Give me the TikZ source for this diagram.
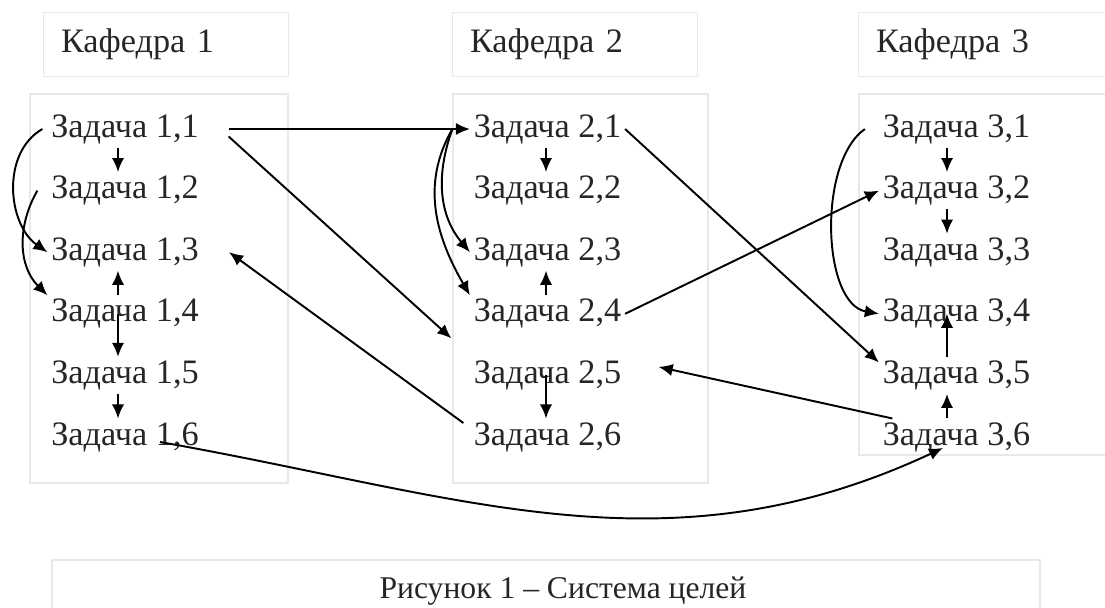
\documentclass[tikz,border=0pt]{standalone}
\usepackage{fontspec}
\setmainfont{Liberation Serif}
\usetikzlibrary{arrows.meta}

\tikzset{
  task/.style={inner sep=2pt, text=black!85, font=\fontsize{19.5}{23}\selectfont},
  dept/.style={draw=black!9, text=black!85, font=\fontsize{19.5}{23}\selectfont, align=left, text width=4.18cm, inner xsep=0.36cm, minimum height=1.28cm},
  panel/.style={draw=black!9, line width=0.6pt},
  arr/.style={-{Latex[length=8pt,width=7pt]}, line width=1.1pt},
}

\begin{document}
\begin{tikzpicture}[node distance=1.232cm]
    \useasboundingbox (0,0) rectangle (22.1,-12.14);
    % frames
    \draw[panel] (0.60,-1.88) rectangle (5.76,-9.66);
    \draw[panel] (9.06,-1.88) rectangle (14.16,-9.66);
    \draw[panel] (17.18,-1.88) rectangle (22.4,-9.10);
    \draw[panel] (1.04,-12.3) -- (1.04,-11.2) -- (20.8,-11.2) -- (20.8,-12.3);

    \node[dept] (dept1) at (3.31,-0.89) {Кафедра 1};
    \node[dept] (dept2) at (11.49,-0.89) {Кафедра 2};
    \node[dept, text width=4.5cm] (dept3) at (19.77,-0.89) {Кафедра 3};

    \node[task] (task11) at (2.5,-2.58) {Задача 1,1};
    \node[task] (task12) [below of=task11] {Задача 1,2};
    \node[task] (task13) [below of=task12] {Задача 1,3};
    \node[task] (task14) [below of=task13] {Задача 1,4};
    \node[task] (task15) [below of=task14] {Задача 1,5};
    \node[task] (task16) [below of=task15] {Задача 1,6};

    \node[task] (task21) at (10.95,-2.58) {Задача 2,1};
    \node[task] (task22) [below of=task21] {Задача 2,2};
    \node[task] (task23) [below of=task22] {Задача 2,3};
    \node[task] (task24) [below of=task23] {Задача 2,4};
    \node[task] (task25) [below of=task24] {Задача 2,5};
    \node[task] (task26) [below of=task25] {Задача 2,6};

    \node[task] (task31) at (19.13,-2.58) {Задача 3,1};
    \node[task] (task32) [below of=task31] {Задача 3,2};
    \node[task] (task33) [below of=task32] {Задача 3,3};
    \node[task] (task34) [below of=task33] {Задача 3,4};
    \node[task] (task35) [below of=task34] {Задача 3,5};
    \node[task] (task36) [below of=task35] {Задача 3,6};

    \node[task, font=\fontsize{18}{22}\selectfont] (caption) at (11.26,-11.82) {Рисунок 1 – Система целей};

    % department 1
    \draw[arr] ([xshift=-0.14cm]task11.south) -- ([xshift=-0.14cm]task12.north);
    \draw[arr] ([xshift=-0.14cm]task14.north) -- ([xshift=-0.14cm]task13.south);
    \draw[arr] ([xshift=-0.14cm]task14.center) -- ([xshift=-0.14cm]task15.north);
    \draw[arr] ([xshift=-0.14cm]task15.south) -- ([xshift=-0.14cm]task16.north);
    \draw[arr] ([xshift=-0.1cm]task11.west) to[out=210,in=145] (task13.west);
    \draw[arr] ([xshift=-0.2cm]task12.west) to[out=240,in=135] (task14.north west);

    % department 2
    \draw[arr] ([xshift=-0.03cm]task21.south) -- ([xshift=-0.03cm]task22.north);
    \draw[arr] ([xshift=-0.03cm]task24.north) -- ([xshift=-0.03cm]task23.south);
    \draw[arr] ([xshift=-0.03cm]task25.center) -- ([xshift=-0.03cm]task26.north);
    \draw[arr] ([xshift=-0.35cm]task21.west) to[out=250,in=130] (task23.west);
    \draw[arr] ([xshift=-0.35cm]task21.west) to[out=240,in=120] (task24.north west);

    % department 3
    \draw[arr] ([xshift=-0.19cm]task31.south) -- ([xshift=-0.19cm]task32.north);
    \draw[arr] ([xshift=-0.19cm]task32.south) -- ([xshift=-0.19cm]task33.north);
    \draw[arr] ([xshift=-0.19cm]task35.north) -- ([xshift=-0.19cm]task34.center);
    \draw[arr] ([xshift=-0.19cm]task36.north) -- ([xshift=-0.19cm]task35.south);
    \draw[arr] ([xshift=-0.28cm]task31.west) to[out=215,in=170,looseness=0.8] (task34.west);

    % between departments
    \draw[arr] ([xshift=0.52cm]task11.east) -- (task21.west);
    \draw[arr] ([shift={(0.52,-0.15)}]task11.east) -- ([shift={(-0.37,0.37)}]task25.north west);
    \draw[arr] ([shift={(-0.13,0.28)}]task26.west) -- ([xshift=0.53cm]task13.east);
    \draw[arr] ([shift={(0.7,-0.1)}]task16.center) to[out=-10,in=205] ([shift={(-0.27,-0.22)}]task36.center);
    \draw[arr] (task21.east) -- ([yshift=0.26cm]task35.west);
    \draw[arr] (task24.east) -- (task32.west);
    \draw[arr] ([xshift=0.27cm]task36.north west) -- ([shift={(0.67,0.17)}]task25.east);
\end{tikzpicture}
\end{document}
